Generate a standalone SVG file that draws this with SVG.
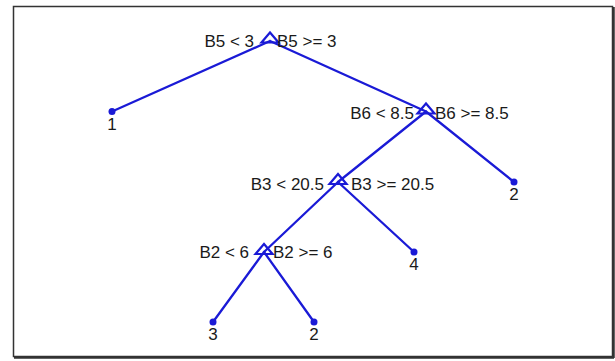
<svg xmlns="http://www.w3.org/2000/svg" width="615" height="361" viewBox="0 0 615 361">
<style>
.e{stroke:#1a1ad6;stroke-width:2.3;fill:none;stroke-linecap:round}
.tri{stroke:#1a1ad6;stroke-width:2.2;fill:none;stroke-linejoin:miter}
.dot{fill:#1a1ad6}
text{font-family:"Liberation Sans",Arial,sans-serif;font-size:17px;fill:#1a1a1a}
.l{text-anchor:end}
.m{text-anchor:middle}
</style>
<rect x="0" y="0" width="615" height="361" fill="#fff"/>
<g id="frame">
<rect x="13.5" y="6.5" width="599" height="350" fill="none" stroke="#333" stroke-width="1.5"/>
<path d="M613.5 7v351M14 357.5h600" stroke="#333" stroke-width="2.5" fill="none"/>
</g>
<g id="edges">
<path class="e" d="M270 41L112 111.5M270 41L426 111.5"/>
<path class="e" d="M426 111.5L338 182M426 111.5L514 182"/>
<path class="e" d="M338 182L264 252M338 182L414 252"/>
<path class="e" d="M264 252L213 322M264 252L314 322"/>
</g>
<g id="n-root">
<polygon class="tri" points="270,32.5 261.5,42.5 278.5,42.5"/>
<text class="l" x="254" y="47">B5 &lt; 3</text>
<text x="277" y="47">B5 &gt;= 3</text>
</g>
<g id="n-b6">
<polygon class="tri" points="426,103.5 417.5,113.5 434.5,113.5"/>
<text class="l" x="414" y="119">B6 &lt; 8.5</text>
<text x="435" y="119">B6 &gt;= 8.5</text>
</g>
<g id="n-b3">
<polygon class="tri" points="338,174 329.5,184 346.5,184"/>
<text class="l" x="324" y="190">B3 &lt; 20.5</text>
<text x="351" y="190">B3 &gt;= 20.5</text>
</g>
<g id="n-b2">
<polygon class="tri" points="264,244 255.5,254 272.5,254"/>
<text class="l" x="249" y="258">B2 &lt; 6</text>
<text x="273" y="258">B2 &gt;= 6</text>
</g>
<g id="leaf-1"><circle class="dot" cx="112" cy="111.5" r="3.5"/><text class="m" x="112" y="130">1</text></g>
<g id="leaf-2a"><circle class="dot" cx="514" cy="182" r="3.5"/><text class="m" x="514" y="200">2</text></g>
<g id="leaf-4"><circle class="dot" cx="414" cy="252" r="3.5"/><text class="m" x="414" y="270">4</text></g>
<g id="leaf-3"><circle class="dot" cx="213" cy="322" r="3.5"/><text class="m" x="213" y="340">3</text></g>
<g id="leaf-2b"><circle class="dot" cx="314" cy="322" r="3.5"/><text class="m" x="314" y="340">2</text></g>
</svg>
